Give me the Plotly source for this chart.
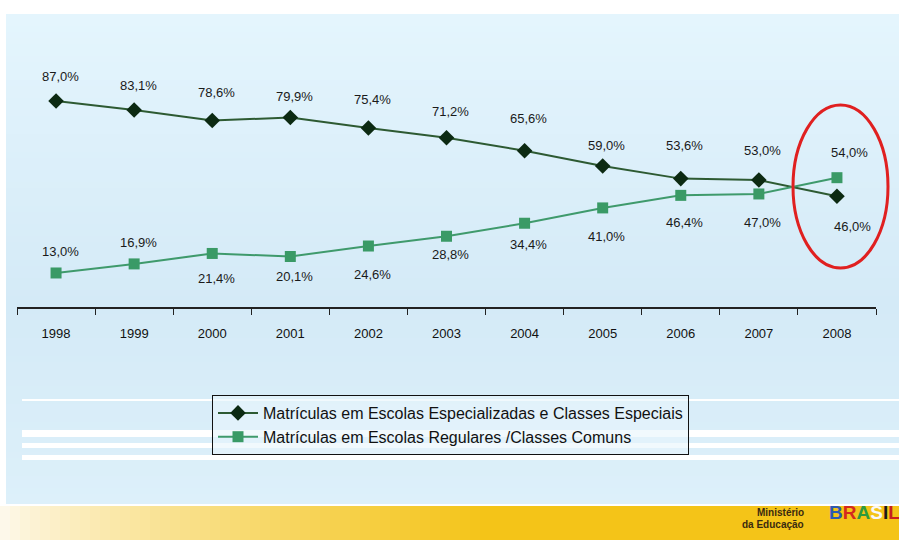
import plotly.graph_objects as go

years = ["1998", "1999", "2000", "2001", "2002", "2003", "2004", "2005", "2006", "2007", "2008"]
especiais = [87.0, 83.1, 78.6, 79.9, 75.4, 71.2, 65.6, 59.0, 53.6, 53.0, 46.0]
comuns = [13.0, 16.9, 21.4, 20.1, 24.6, 28.8, 34.4, 41.0, 46.4, 47.0, 54.0]

name_especiais = "Matrículas em Escolas Especializadas e Classes Especiais"
name_comuns = "Matrículas em Escolas Regulares /Classes Comuns"

# label offsets in px (style only)
esp_dy = [25, 25, 28, 21, 28, 26, 32, 21, 33, 30, -30]
esp_dx = [4, 4, 4, 4, 4, 4, 4, 4, 4, 4, 16]
com_dy = [21, 21, -25, -20, -28, -18, -21, -29, -27, -29, 25]
com_dx = [4, 4, 4, 4, 4, 4, 4, 4, 4, 4, 13]

FONT = "Liberation Sans Narrow, Liberation Sans, Arial, sans-serif"
LABEL_FONT = dict(family=FONT, size=13, color="#1a1a1a")


# plot area is 17..876 px wide, 40..307 px tall
def px(x):
    return (x - 17) / 859


def py(y):
    return (307 - y) / 267


def mix(c1, c2, t):
    a = [int(c1[i:i + 2], 16) for i in (1, 3, 5)]
    b = [int(c2[i:i + 2], 16) for i in (1, 3, 5)]
    return "rgb(%d,%d,%d)" % tuple(round(a[k] + (b[k] - a[k]) * t) for k in range(3))


fig = go.Figure()
fig.add_trace(go.Scatter(x=years, y=especiais, name=name_especiais, mode="lines+markers",
                         line=dict(color="#2d5a32", width=2),
                         marker=dict(symbol="diamond", size=12, color="#0c2a12")))
fig.add_trace(go.Scatter(x=years, y=comuns, name=name_comuns, mode="lines+markers",
                         line=dict(color="#3f9a6c", width=2),
                         marker=dict(symbol="square", size=11, color="#3a9a66")))

annotations = []
for i, (v, dy, dx) in enumerate(zip(especiais, esp_dy, esp_dx)):
    annotations.append(dict(x=i, y=v, text=f"{v:.1f}%".replace(".", ","), showarrow=False,
                            yshift=dy, xshift=dx, font=LABEL_FONT))
for i, (v, dy, dx) in enumerate(zip(comuns, com_dy, com_dx)):
    annotations.append(dict(x=i, y=v, text=f"{v:.1f}%".replace(".", ","), showarrow=False,
                            yshift=dy, xshift=dx, font=LABEL_FONT))

# logo bottom right
annotations.append(dict(xref="paper", yref="paper", x=px(806), y=py(520), xanchor="right",
                        text="<b>Ministério</b>", showarrow=False,
                        font=dict(family="Liberation Sans, Arial", size=10, color="#3a2a10")))
annotations.append(dict(xref="paper", yref="paper", x=px(806), y=py(532), xanchor="right",
                        text="<b>da Educação</b>", showarrow=False,
                        font=dict(family="Liberation Sans, Arial", size=10, color="#3a2a10")))
annotations.append(dict(xref="paper", yref="paper", x=px(827), y=py(525), xanchor="left",
                        text="<b><span style='color:#2c5ab0'>B</span><span style='color:#d42a1e'>R</span>"
                             "<span style='color:#2e9a3e'>A</span><span style='color:#f8f8f8'>S</span>"
                             "<span style='color:#1a1a1a'>I</span><span style='color:#c8201e'>L</span></b>",
                        showarrow=False, font=dict(family="Liberation Sans, Arial", size=19)))

shapes = []
# light blue slide panel, soft vertical gradient
stops = [(14, "#e4f5fd"), (300, "#d4eaf7"), (505, "#ddf0fa")]
step = 6
for y in range(14, 505, step):
    if y < 300:
        c = mix(stops[0][1], stops[1][1], (y - 14) / (300 - 14))
    else:
        c = mix(stops[1][1], stops[2][1], (y - 300) / (505 - 300))
    shapes.append(dict(type="rect", xref="paper", yref="paper", layer="below",
                       x0=px(6), x1=px(905), y0=py(min(y + step, 505)), y1=py(y),
                       fillcolor=c, line=dict(width=0)))
# white stripes behind legend
for y0, y1 in [(399, 401), (430, 437), (443, 448), (455, 460)]:
    shapes.append(dict(type="rect", xref="paper", yref="paper", layer="below",
                       x0=px(22), x1=px(905), y0=py(y1), y1=py(y0),
                       fillcolor="#ffffff", line=dict(width=0)))
# yellow bottom bar
for x in range(0, 905, 10):
    t = min(x / 480, 1)
    c = mix("#fdf8ea", "#f4c418", t ** 0.8)
    shapes.append(dict(type="rect", xref="paper", yref="paper", layer="below",
                       x0=px(x), x1=px(x + 10), y0=py(545), y1=py(506),
                       fillcolor=c, line=dict(width=0)))
shapes.append(dict(type="rect", xref="paper", yref="paper", layer="below",
                   x0=px(0), x1=px(905), y0=py(506), y1=py(504),
                   fillcolor="#ffffff", line=dict(width=0)))
# red ellipse around 2008
shapes.append(dict(type="circle", xref="paper", yref="paper",
                   x0=px(793), x1=px(888), y0=py(268), y1=py(105),
                   line=dict(color="#e02020", width=3)))

fig.update_layout(
    width=899, height=540,
    margin=dict(l=17, r=23, t=40, b=233),
    paper_bgcolor="white",
    plot_bgcolor="rgba(0,0,0,0)",
    showlegend=True,
    legend=dict(x=px(212), y=py(395), xanchor="left", yanchor="top",
                bgcolor="rgba(232,245,252,0.6)", bordercolor="#111", borderwidth=1,
                font=dict(family=FONT, size=16, color="#111"), itemwidth=40),
    xaxis=dict(type="category", range=[-0.5, 10.5], showgrid=False, zeroline=False,
               showline=True, linecolor="#222", linewidth=1.5,
               ticks="outside", tickson="boundaries", ticklen=6, tickcolor="#222",
               ticklabelstandoff=14,
               tickfont=dict(family=FONT, size=13, color="#111")),
    yaxis=dict(range=[-1.64, 113.25], visible=False, showgrid=False, zeroline=False),
    annotations=annotations,
    shapes=shapes,
    font=dict(family=FONT, color="#111"),
)

fig.write_html("out.html", config={"displayModeBar": False},
               post_script="document.body.style.margin='0';")
